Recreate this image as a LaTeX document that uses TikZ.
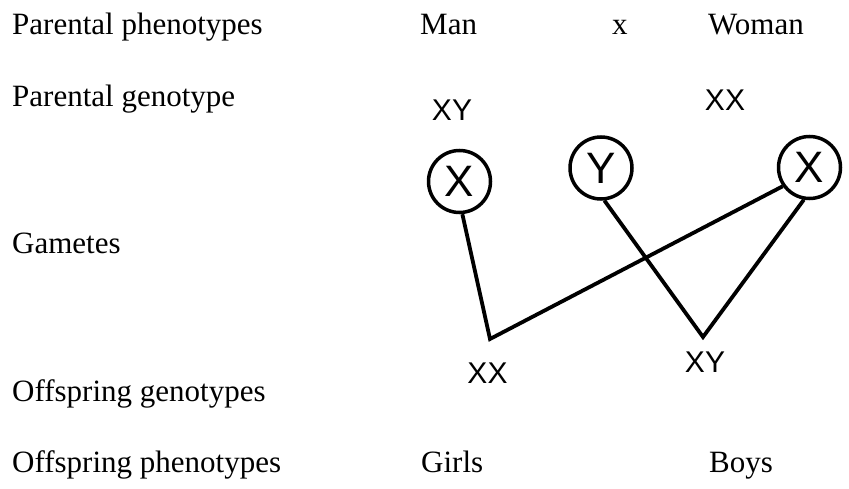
\documentclass[tikz,border=0pt]{standalone}
\usepackage{fontspec}
\setmainfont{Liberation Serif}
\newfontfamily\handfont{Liberation Sans}
\usepackage{tikz}
\usetikzlibrary{
  positioning,
  calc
}
\tikzset{
  rowlabel/.style={anchor=base west, inner sep=0pt, font=\fontsize{31}{37}\selectfont},
  genolabel/.style={inner sep=0pt, font=\handfont\fontsize{30}{34}\selectfont},
  gamete/.style={draw, circle, line width=3.5pt, minimum size=62pt, inner sep=0pt,
    font=\handfont\fontsize{44}{44}\selectfont},
  cross/.style={line width=3.8pt, line join=miter}
}

\begin{document}
\begin{tikzpicture}[x=1pt, y=-1pt]
\useasboundingbox (0,0) rectangle (849,489);
% row labels on the left
\foreach \n/\y/\t in {phen/35/Parental phenotypes, geno/107/Parental genotype,
  gam/254/Gametes, ogeno/401/Offspring genotypes, ophen/472/Offspring phenotypes}{
  \node[rowlabel] (\n) at (12,\y) {\t};
}

% parents
\node[rowlabel] (man) at (420,35) {Man};
\node[rowlabel] (times) at (612,35) {x};
\node[rowlabel] (woman) at (708,35) {Woman};
\node[genolabel] (xy) at (452,110) {XY};
\node[genolabel] (xx) at (725,100) {XX};

% gametes
\node[gamete] (gxl) at (459.5,181.5) {X};
\node[gamete] (gy) at (601,168) {Y};
\node[gamete] (gxr) at (809.5,167.5) {X};

% fertilisation lines
\coordinate (v1) at (490,339);
\coordinate (v2) at (703,337);
\draw[cross] (gxl.275) -- (v1) -- (gxr.215);
\draw[cross] (gy.276) -- (v2) -- (gxr.260);

% offspring
\node[genolabel] (oxx) at (487.5,373) {XX};
\node[genolabel] (oxy) at (705,362.5) {XY};
\node[rowlabel] (girls) at (421,472) {Girls};
\node[rowlabel] (boys) at (709,472) {Boys};
\end{tikzpicture}
\end{document}
